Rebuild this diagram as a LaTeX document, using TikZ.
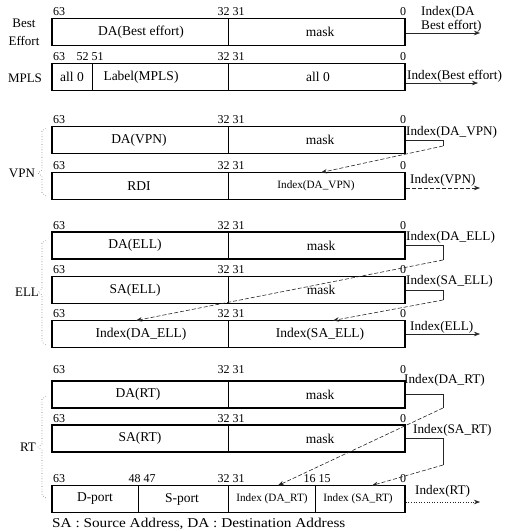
\documentclass[tikz,border=0pt]{standalone}
\usepackage{fontspec}
\setmainfont{Liberation Serif}
\usetikzlibrary{arrows.meta}
\begin{document}
\begin{tikzpicture}[x=1pt,y=-1pt,
 reg/.style={draw, line width=1.5pt, minimum width=353pt, minimum height=27pt, inner sep=0pt},
 fld/.style={font=\fontsize{13.5}{14}\selectfont, inner sep=0pt},
 sfld/.style={font=\fontsize{11.2}{12}\selectfont, inner sep=0pt},
 bit/.style={font=\fontsize{12}{12}\selectfont, inner sep=0pt},
 idx/.style={font=\fontsize{13.2}{14}\selectfont, inner sep=0pt, anchor=west},
 side/.style={font=\fontsize{13}{14}\selectfont, inner sep=0pt},
 div/.style={line width=0.7pt},
 conn/.style={line width=0.6pt, draw=black!85},
 dsh/.style={dash pattern=on 4pt off 2pt},
 tip/.style={-{Stealth[length=6pt,width=4.5pt]}},
 brace/.style={draw=black!55, line width=0.6pt, dotted}]
\useasboundingbox (0,0) rectangle (505,531);
\clip (0,0) rectangle (505,531);
\newcommand\bitrow[2]{%
 \node[bit] (#1b63) at (59,#2) {63};
 \node[bit] (#1b32) at (231,#2) {32 31};
 \node[bit] (#1b0) at (403,#2) {0};}

% ---------- Best effort ----------
\node[side] (sBest) at (24,23) {Best};
\node[side] (sEff) at (24,41) {Effort};
\node[reg] (be) at (228.5,32) {};
\draw[div] (228,18.5) -- (228,45.5);
\node[fld] (beDA) at (141,32) {DA(Best effort)};
\node[fld] (beM) at (320,32) {mask};
\bitrow{be}{12}
\coordinate (beO) at (480,33);
\draw[conn,tip] (be.east |- beO) -- (beO);
\node[idx] (beL1) at (421,12) {Index(DA};
\node[idx] (beL2) at (421,26) {Best effort)};

% ---------- MPLS ----------
\node[side] (sMP) at (25,78) {MPLS};
\node[reg] (mp) at (228.5,77) {};
\draw[div] (92,63.5) -- (92,90.5);
\draw[div] (228,63.5) -- (228,90.5);
\node[fld] (mpA) at (72,77) {all 0};
\node[fld] (mpL) at (141,77) {Label(MPLS)};
\node[fld] (mpB) at (318,77) {all 0};
\node[bit] (mpb63) at (59,57) {63};
\node[bit] (mpb52) at (90,57) {52 51};
\node[bit] (mpb32) at (231,57) {32 31};
\node[bit] (mpb0) at (403,57) {0};
\coordinate (mpO) at (478,83);
\draw[conn,tip] (mp.east |- mpO) -- (mpO);
\node[idx] (mpL1) at (407,76) {Index(Best effort)};

% ---------- VPN ----------
\node[side] (sVPN) at (22,173) {VPN};
\draw[brace] (46,128) -- (42,131) -- (42,170) -- (38,173) -- (42,176) -- (42,193) -- (46,196);
\node[reg] (v1) at (228.5,140) {};
\draw[div] (228,126.5) -- (228,153.5);
\node[fld] (v1DA) at (139,140) {DA(VPN)};
\node[fld] (v1M) at (320,140) {mask};
\bitrow{v1}{120}
\node[reg] (v2) at (228.5,186) {};
\draw[div] (228,172.5) -- (228,199.5);
\node[fld] (v2R) at (139,186) {RDI};
\node[sfld] (v2I) at (316,186) {Index(DA\_VPN)};
\bitrow{v2}{166}
\coordinate (v1k) at (443,146);
\coordinate (v1t) at (321,172.5);
\draw[conn] (v1.east) -| (v1k);
\draw[conn,dsh,tip] (v1k) -- (v1t);
\coordinate (v2O) at (480,188);
\draw[conn,dsh,tip] (v2.east |- v2O) -- (v2O);
\node[idx] (v1L) at (406,132) {Index(DA\_VPN)};
\node[idx] (v2L) at (410,180) {Index(VPN)};

% ---------- ELL ----------
\node[side] (sELL) at (27,292) {ELL};
\draw[brace] (46,240) -- (42,243) -- (42,289) -- (38,292) -- (42,295) -- (42,342) -- (46,345);
\node[reg] (e1) at (228.5,245.5) {};
\draw[div] (228,232) -- (228,259);
\node[fld] (e1DA) at (135,245.5) {DA(ELL)};
\node[fld] (e1M) at (321,245.5) {mask};
\bitrow{e1}{225.5}
\node[reg] (e2) at (228.5,290) {};
\draw[div] (228,276.5) -- (228,303.5);
\node[fld] (e2SA) at (135,290) {SA(ELL)};
\node[fld] (e2M) at (321,290) {mask};
\bitrow{e2}{270}
\node[reg] (e3) at (228.5,334) {};
\draw[div] (228,320.5) -- (228,347.5);
\node[fld] (e3A) at (141,334) {Index(DA\_ELL)};
\node[fld] (e3B) at (320,334) {Index(SA\_ELL)};
\bitrow{e3}{314}
\coordinate (e1k) at (443,260);
\coordinate (e1t) at (136,320.5);
\draw[conn] (e1.east) -| (e1k);
\draw[conn,dsh,tip] (e1k) -- (e1t);
\coordinate (e2k) at (443,300);
\coordinate (e2t) at (333,320.5);
\draw[conn] (e2.east) -| (e2k);
\draw[conn,dsh,tip] (e2k) -- (e2t);
\coordinate (e3O) at (480,334);
\draw[conn,tip] (e3.east |- e3O) -- (e3O);
\node[idx] (e1L) at (406,237) {Index(DA\_ELL)};
\node[idx] (e2L) at (406,281) {Index(SA\_ELL)};
\node[idx] (e3L) at (410,327) {Index(ELL)};

% ---------- RT ----------
\node[side] (sRT) at (28,447) {RT};
\draw[brace] (46,396) -- (42,399) -- (42,444) -- (38,447) -- (42,450) -- (42,495) -- (46,498);
\node[reg] (r1) at (228.5,394.5) {};
\draw[div] (228,381) -- (228,408);
\node[fld] (r1DA) at (138,394.5) {DA(RT)};
\node[fld] (r1M) at (320,394.5) {mask};
\bitrow{r1}{370}
\node[reg] (r2) at (228.5,438.5) {};
\draw[div] (228,425) -- (228,452);
\node[fld] (r2SA) at (140,438.5) {SA(RT)};
\node[fld] (r2M) at (320,438.5) {mask};
\bitrow{r2}{418.5}
\node[reg] (r3) at (228.5,499) {};
\draw[div] (138,485.5) -- (138,512.5);
\draw[div] (228,485.5) -- (228,512.5);
\draw[div] (315,485.5) -- (315,512.5);
\node[fld] (r3D) at (95,499) {D-port};
\node[fld] (r3S) at (182,499) {S-port};
\node[sfld] (r3A) at (272,499) {Index (DA\_RT)};
\node[sfld] (r3B) at (358,499) {Index (SA\_RT)};
\node[bit] (r3b63) at (59,479) {63};
\node[bit] (r3b48) at (142,479) {48 47};
\node[bit] (r3b32) at (231,479) {32 31};
\node[bit] (r3b16) at (317,479) {16 15};
\node[bit] (r3b0) at (403,479) {0};
\coordinate (r1k) at (443,408);
\coordinate (r1t) at (278,485.5);
\draw[conn] (r1.east) -| (r1k);
\draw[conn,dsh,tip] (r1k) -- (r1t);
\coordinate (r2k) at (443,465);
\coordinate (r2t) at (372,485.5);
\draw[conn] (r2.east) -| (r2k);
\draw[conn,dsh,tip] (r2k) -- (r2t);
\coordinate (r3O) at (480,502);
\draw[conn,dotted,tip] (r3.east |- r3O) -- (r3O);
\node[idx] (r1L) at (404,380) {Index(DA\_RT)};
\node[idx] (r2L) at (413,430) {Index(SA\_RT)};
\node[idx] (r3L) at (415,491) {Index(RT)};

% ---------- footnote ----------
\node[fld, anchor=west] (note) at (52,523.5) {\scalebox{1.13}[1]{SA : Source Address, DA : Destination Address}};
\end{tikzpicture}
\end{document}
